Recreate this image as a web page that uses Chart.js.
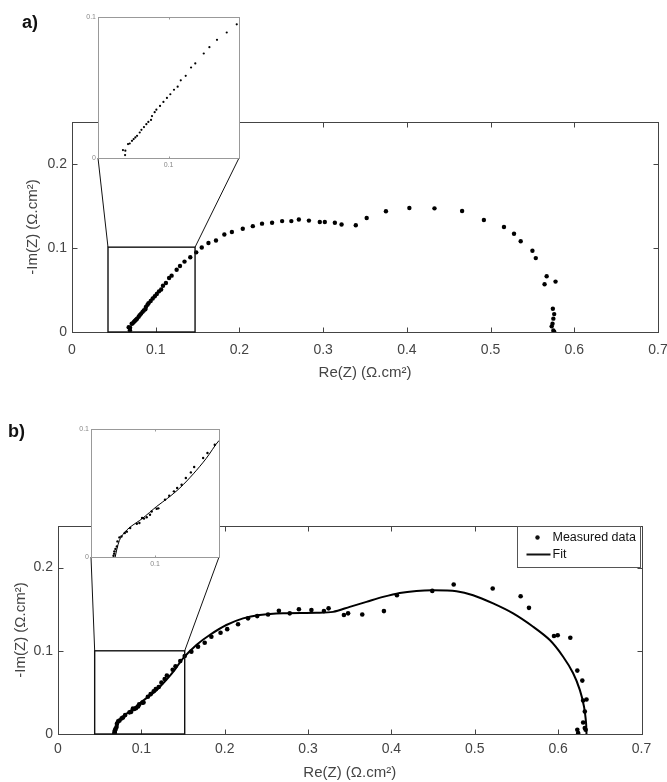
<!DOCTYPE html>
<html>
<head>
<meta charset="utf-8">
<script src="https://cdn.jsdelivr.net/npm/chart.js@4.4.1/dist/chart.umd.min.js"></script>
<style>
  body { margin: 0; background: #fff; }
  #page { position: relative; width: 667px; height: 782px; overflow: hidden; }
  canvas { position: absolute; }
  .tag { position: absolute; font: bold 18px "Liberation Sans Narrow", "Arial Narrow", Arial, sans-serif; color: #111; }
</style>
</head>
<body>
<div id="page">
  <canvas id="mainA" width="667" height="390" style="left:0;top:0"></canvas>
  <canvas id="insetA" width="170" height="170" style="left:80px;top:8px"></canvas>
  <canvas id="mainB" width="667" height="392" style="left:0;top:390px"></canvas>
  <canvas id="insetB" width="160" height="150" style="left:72px;top:420px"></canvas>
  <div class="tag" style="left:22px;top:12px">a)</div>
  <div class="tag" style="left:8px;top:421px">b)</div>
</div>
<script>
// values: Re(Z) and -Im(Z) in ohm.cm2
const reA = [0.0677, 0.0694, 0.0692, 0.0713, 0.0725, 0.0741, 0.0753, 0.0765, 0.0777, 0.0796,
  0.0808, 0.0826, 0.0843, 0.0857, 0.0876, 0.0883, 0.0902, 0.0914, 0.0940, 0.0964,
  0.0989, 0.1013, 0.1039, 0.1065, 0.1087, 0.1122, 0.1160, 0.1190, 0.1250, 0.1290,
  0.1344, 0.1413, 0.1484, 0.155, 0.163, 0.172, 0.182, 0.191, 0.204, 0.216,
  0.227, 0.239, 0.251, 0.262, 0.271, 0.283, 0.296, 0.302, 0.314, 0.322,
  0.339, 0.352, 0.375, 0.403, 0.433, 0.466, 0.492, 0.516, 0.528, 0.536,
  0.550, 0.554, 0.567, 0.5645, 0.5776, 0.5744, 0.576, 0.575, 0.574, 0.573,
  0.575, 0.576];
const imA = [0.0056, 0.0052, 0.0021, 0.0099, 0.0103, 0.0122, 0.0134, 0.0146, 0.0157, 0.0181,
  0.0200, 0.0219, 0.0240, 0.0256, 0.0270, 0.0297, 0.0325, 0.0343, 0.0369, 0.0398,
  0.0426, 0.0452, 0.0484, 0.0506, 0.0551, 0.0583, 0.0642, 0.0671, 0.0741, 0.0786,
  0.0838, 0.0890, 0.0948, 0.1006, 0.106, 0.109, 0.116, 0.119, 0.123, 0.126,
  0.129, 0.130, 0.132, 0.132, 0.134, 0.1326, 0.131, 0.131, 0.130, 0.128,
  0.127, 0.1357, 0.1437, 0.1476, 0.1472, 0.144, 0.1334, 0.125, 0.117, 0.108,
  0.0967, 0.088, 0.0663, 0.0568, 0.060, 0.0277, 0.0213, 0.0159, 0.0099, 0.0067,
  0.0017, 0.0005];

const reB = [0.0676, 0.0681, 0.0683, 0.0691, 0.0702, 0.0707, 0.0722, 0.0738, 0.0764, 0.0780,
  0.0806, 0.0858, 0.0878, 0.0899, 0.0914, 0.0935, 0.0961, 0.0974, 0.1013, 0.1026,
  0.1078, 0.1111, 0.1148, 0.1173, 0.1208, 0.1241, 0.1280, 0.1306, 0.1376, 0.1410,
  0.1467, 0.152, 0.160, 0.168, 0.176, 0.184, 0.195, 0.203, 0.216, 0.228,
  0.239, 0.252, 0.265, 0.278, 0.289, 0.304, 0.319, 0.3246, 0.343, 0.348,
  0.365, 0.391, 0.4066, 0.449, 0.4747, 0.5215, 0.555, 0.565, 0.595, 0.5995,
  0.6146, 0.623, 0.629, 0.630, 0.634, 0.632, 0.630, 0.632, 0.623, 0.624,
  0.633];
const imB = [0.0010, 0.0026, 0.0044, 0.0062, 0.0083, 0.0122, 0.0153, 0.0161, 0.0188, 0.0198,
  0.0227, 0.0260, 0.0266, 0.0305, 0.0300, 0.0310, 0.0330, 0.0356, 0.0377, 0.0380,
  0.0448, 0.0479, 0.0513, 0.0539, 0.0565, 0.0617, 0.0661, 0.0703, 0.0773, 0.0813,
  0.0877, 0.0938, 0.099, 0.105, 0.1097, 0.1169, 0.1217, 0.126, 0.132, 0.139,
  0.1417, 0.1437, 0.148, 0.145, 0.150, 0.149, 0.1477, 0.151, 0.143, 0.145,
  0.1437, 0.1477, 0.1668, 0.172, 0.1796, 0.1748, 0.1656, 0.1516, 0.1177, 0.1186,
  0.1157, 0.0762, 0.0642, 0.0402, 0.0414, 0.027, 0.0139, 0.0072, 0.0051, 0.0012,
  0.0051];

const reFitB = [0.0689, 0.0702, 0.0722, 0.0760, 0.0806, 0.090, 0.1013, 0.110, 0.1194, 0.130,
  0.140, 0.150, 0.166, 0.182, 0.202, 0.222, 0.242, 0.270, 0.310, 0.330,
  0.350, 0.370, 0.390, 0.410, 0.430, 0.450, 0.478, 0.498, 0.522, 0.546,
  0.570, 0.590, 0.606, 0.618, 0.626, 0.631, 0.6335, 0.634];
const imFitB = [0, 0.006, 0.013, 0.019, 0.0234, 0.030, 0.0395, 0.046, 0.0539, 0.065,
  0.077, 0.091, 0.107, 0.119, 0.131, 0.139, 0.143, 0.145, 0.1456, 0.1468,
  0.1528, 0.1588, 0.1648, 0.1696, 0.172, 0.1728, 0.1716, 0.1668, 0.1569, 0.1449,
  0.1289, 0.1129, 0.0929, 0.073, 0.053, 0.033, 0.0132, 0];

const xTicks = [0, 0.1, 0.2, 0.3, 0.4, 0.5, 0.6, 0.7];
const yTicks = [0, 0.1, 0.2];
const insetXTicks = [0.1];
const insetYTicks = [0, 0.1];
const insetX = [0.05, 0.15];
const insetY = [0, 0.1];
const zoomBoxA = { x: [0.043, 0.147], y: [0, 0.101] };
const zoomBoxB = { x: [0.044, 0.152], y: [0, 0.1] };

const pts = (xs, ys) => xs.map((x, i) => ({ x: x, y: ys[i] }));

Chart.defaults.font.family = 'Arial, "Liberation Sans", sans-serif';
Chart.defaults.color = '#444';

const insets = {};
const px = v => Math.round(v) + 0.5;

// white plot background (hides the frame of the big plot behind the insets)
const bgPlugin = {
  id: 'plotBg',
  beforeDraw(chart, args, o) {
    if (!o.fill) return;
    const a = chart.chartArea;
    chart.ctx.save();
    chart.ctx.fillStyle = o.fill;
    chart.ctx.fillRect(a.left, a.top, a.width, a.height);
    chart.ctx.restore();
  }
};

// matlab style box with inward ticks
const framePlugin = {
  id: 'frame',
  afterDatasetsDraw(chart, args, o) {
    const { ctx, chartArea: a, scales: { x, y } } = chart;
    const l = px(a.left), r = px(a.right), t = px(a.top), b = px(a.bottom);
    ctx.save();
    ctx.strokeStyle = o.color;
    ctx.lineWidth = 1;
    ctx.strokeRect(l, t, r - l, b - t);
    ctx.beginPath();
    x.ticks.forEach(tk => {
      const p = px(x.getPixelForValue(tk.value));
      ctx.moveTo(p, b); ctx.lineTo(p, b - o.tick);
      ctx.moveTo(p, t); ctx.lineTo(p, t + o.tick);
    });
    y.ticks.forEach(tk => {
      const p = px(y.getPixelForValue(tk.value));
      ctx.moveTo(l, p); ctx.lineTo(l + o.tick, p);
      ctx.moveTo(r, p); ctx.lineTo(r - o.tick, p);
    });
    ctx.stroke();
    ctx.restore();
  }
};

// zoom rectangle plus the two lines up to the inset
const zoomPlugin = {
  id: 'zoomBox',
  afterDatasetsDraw(chart, args, o) {
    if (!o.box) return;
    const { ctx, scales: { x, y } } = chart;
    const l = x.getPixelForValue(o.box.x[0]), r = x.getPixelForValue(o.box.x[1]);
    const t = y.getPixelForValue(o.box.y[1]), b = y.getPixelForValue(o.box.y[0]);
    ctx.save();
    ctx.strokeStyle = '#111';
    ctx.lineWidth = 1.4;
    ctx.strokeRect(l, t, r - l, b - t);
    const ins = insets[o.inset];
    if (ins) {
      const dx = ins.canvas.offsetLeft - chart.canvas.offsetLeft;
      const dy = ins.canvas.offsetTop - chart.canvas.offsetTop;
      const ia = ins.chartArea;
      ctx.lineWidth = 1;
      ctx.beginPath();
      ctx.moveTo(l, t); ctx.lineTo(ia.left + dx, ia.bottom + dy);
      ctx.moveTo(r, t); ctx.lineTo(ia.right + dx, ia.bottom + dy);
      ctx.stroke();
    }
    ctx.restore();
  }
};

// boxed legend in the upper right corner of the plot
const boxLegend = {
  id: 'boxLegend',
  afterDraw(chart, args, o) {
    if (!o.display) return;
    const { ctx, chartArea: a } = chart;
    const left = px(a.right - o.width - 2), top = px(a.top);
    ctx.save();
    ctx.fillStyle = '#fff';
    ctx.fillRect(left, top, o.width, o.height);
    ctx.strokeStyle = '#555';
    ctx.lineWidth = 1;
    ctx.strokeRect(left, top, o.width, o.height);
    ctx.font = '12.5px Arial, "Liberation Sans", sans-serif';
    ctx.textBaseline = 'middle';
    chart.data.datasets.forEach((ds, i) => {
      const cy = top + 11 + i * 17;
      ctx.fillStyle = '#111';
      ctx.strokeStyle = '#111';
      if (ds.showLine) {
        ctx.lineWidth = 2;
        ctx.beginPath();
        ctx.moveTo(left + 9, cy); ctx.lineTo(left + 33, cy);
        ctx.stroke();
      } else {
        ctx.beginPath();
        ctx.arc(left + 20, cy, 2.2, 0, Math.PI * 2);
        ctx.fill();
      }
      ctx.fillText(ds.label, left + 35, cy);
    });
    ctx.restore();
  }
};

// fixed axis sizes so the plot boxes sit where they do in the figure
const fixX = h => s => { s.height = h; s.paddingLeft = 0; s.paddingRight = 0; };
const fixY = w => s => { s.width = w; s.paddingTop = 0; s.paddingBottom = 0; };

function mainOptions(o) {
  return {
    responsive: false,
    animation: false,
    events: [],
    layout: { padding: { top: o.top, right: o.right, left: 0, bottom: 0 } },
    plugins: {
      legend: { display: false },
      tooltip: { enabled: false },
      frame: { color: '#444', tick: 5 },
      zoomBox: { box: o.box, inset: o.inset },
      boxLegend: o.legend || { display: false }
    },
    scales: {
      x: {
        type: 'linear', min: 0, max: 0.7,
        afterBuildTicks: s => { s.ticks = xTicks.map(v => ({ value: v })); },
        afterFit: fixX(o.xh),
        grid: { display: false, drawTicks: false },
        border: { display: false },
        ticks: { padding: o.xpad, font: { size: 14 }, color: '#444', callback: v => String(v) },
        title: { display: true, text: 'Re(Z) (Ω.cm²)', font: { size: 15 }, color: '#444', padding: { top: 0, bottom: o.xtitle } }
      },
      y: {
        type: 'linear', min: 0, max: 0.25,
        afterBuildTicks: s => { s.ticks = yTicks.map(v => ({ value: v })); },
        afterFit: fixY(o.yw),
        grid: { display: false, drawTicks: false },
        border: { display: false },
        ticks: { padding: 5, font: { size: 14 }, color: '#444', callback: v => String(v) },
        title: { display: true, text: '-Im(Z) (Ω.cm²)', font: { size: 15 }, color: '#444', padding: { top: o.ytitle, bottom: 0 } }
      }
    }
  };
}

function insetOptions(o) {
  return {
    responsive: false,
    animation: false,
    events: [],
    layout: { padding: { top: o.top, right: o.right, left: 0, bottom: 0 } },
    plugins: {
      legend: { display: false },
      tooltip: { enabled: false },
      plotBg: { fill: '#fff' },
      frame: { color: '#999', tick: 2 }
    },
    scales: {
      x: {
        type: 'linear', min: insetX[0], max: insetX[1],
        afterBuildTicks: s => { s.ticks = insetXTicks.map(v => ({ value: v })); },
        afterFit: fixX(o.xh),
        grid: { display: false, drawTicks: false },
        border: { display: false },
        ticks: { padding: 3, font: { size: 7 }, color: '#888', callback: v => String(v) }
      },
      y: {
        type: 'linear', min: insetY[0], max: insetY[1],
        afterBuildTicks: s => { s.ticks = insetYTicks.map(v => ({ value: v })); },
        afterFit: fixY(o.yw),
        grid: { display: false, drawTicks: false },
        border: { display: false },
        ticks: { padding: 2, font: { size: 7 }, color: '#888', callback: v => String(v) }
      }
    }
  };
}

const plugins = [bgPlugin, framePlugin, zoomPlugin, boxLegend];

// ---- panel a ----
insets.A = new Chart(document.getElementById('insetA'), {
  type: 'scatter',
  data: { datasets: [
    { label: 'Measured data', data: pts(reA, imA), pointRadius: 1.1, pointBackgroundColor: '#000', pointBorderWidth: 0, clip: 0 }
  ] },
  options: insetOptions({ top: 9, right: 11, xh: 20, yw: 18 }),
  plugins: plugins
});

new Chart(document.getElementById('mainA'), {
  type: 'scatter',
  data: { datasets: [
    { label: 'Measured data', data: pts(reA, imA), pointRadius: 2.2, pointBackgroundColor: '#000', pointBorderWidth: 0 }
  ] },
  options: mainOptions({ top: 122, right: 9, xh: 58, yw: 72, xpad: 10, xtitle: 8, ytitle: 24, box: zoomBoxA, inset: 'A' }),
  plugins: plugins
});

// ---- panel b ----
insets.B = new Chart(document.getElementById('insetB'), {
  type: 'scatter',
  data: { datasets: [
    { label: 'Measured data', data: pts(reB, imB), pointRadius: 1.2, pointBackgroundColor: '#000', pointBorderWidth: 0, clip: 0 },
    { label: 'Fit', data: pts(reFitB, imFitB), showLine: true, borderColor: '#000', borderWidth: 1, pointRadius: 0, tension: 0.3, clip: 0 }
  ] },
  options: insetOptions({ top: 9, right: 13, xh: 13, yw: 19 }),
  plugins: plugins
});

new Chart(document.getElementById('mainB'), {
  type: 'scatter',
  data: { datasets: [
    { label: 'Measured data', data: pts(reB, imB), pointRadius: 2.3, pointBackgroundColor: '#000', pointBorderWidth: 0 },
    { label: 'Fit', data: pts(reFitB, imFitB), showLine: true, borderColor: '#000', borderWidth: 2, pointRadius: 0, tension: 0.3 }
  ] },
  options: mainOptions({ top: 136, right: 25.5, xh: 48, yw: 58, xpad: 7, xtitle: 0, ytitle: 12, box: zoomBoxB, inset: 'B',
    legend: { display: true, width: 123, height: 41 } }),
  plugins: plugins
});
</script>
</body>
</html>
